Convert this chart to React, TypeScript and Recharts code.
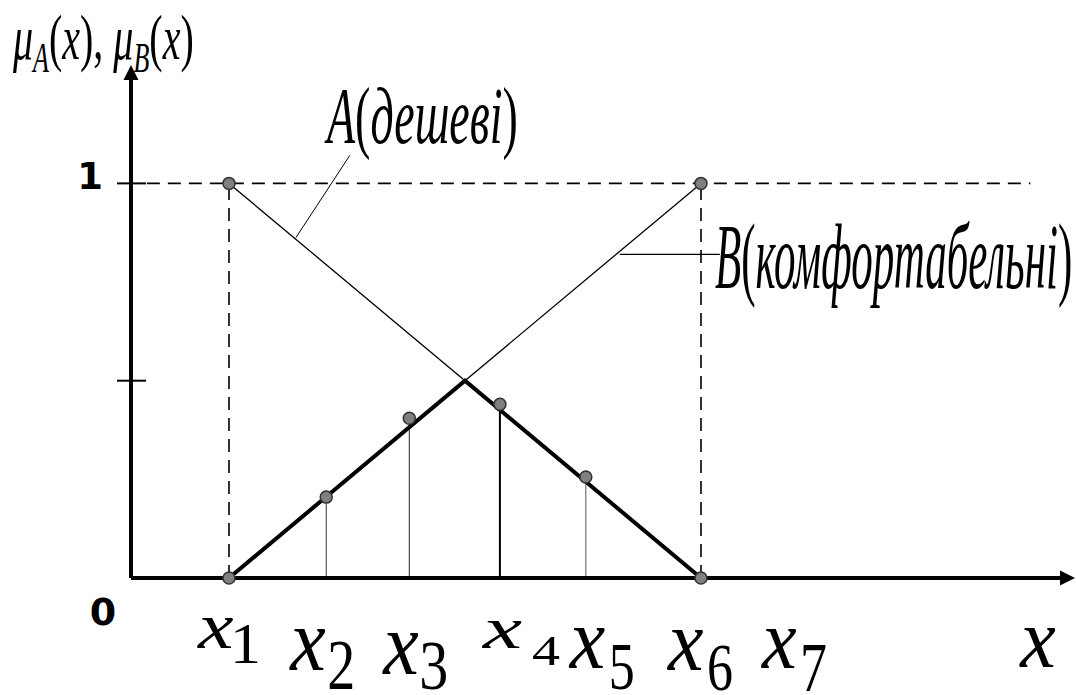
import React from 'react';
import { ComposedChart, Line, XAxis, YAxis, ReferenceLine, ReferenceDot } from 'recharts';

// ---- data ----
const X_MIN = -0.038;
const X_MAX = 9.962;
const Y_MAX = 1.3;

const tickValues = [1, 2.03, 2.91, 3.87, 4.78, 6, 7.05];
const tickSubscripts = ['1', '2', '3', '4', '5', '6', '7'];
const yTickValues = [0, 0.5, 1];

const lineA = [{ x: 1, y: 1 }, { x: 6, y: 0 }];
const lineB = [{ x: 1, y: 0 }, { x: 6, y: 1 }];
const membership = [{ x: 1, y: 0 }, { x: 3.5, y: 0.5 }, { x: 6, y: 0 }];

const sampleX = [2.03, 2.91, 3.87, 4.78];
const sampleY = [0.205, 0.405, 0.44, 0.256];
const cornerX = [1, 6, 1, 6];
const cornerY = [1, 1, 0, 0];

const guideH = { y: 1, from: 0.13, to: 9.49 };
const guideVX = [1, 6];

const leaderA = [{ x: 1.71, y: 0.863 }, { x: 2.28, y: 1.071 }];
const leaderB = [{ x: 5.14, y: 0.82 }, { x: 6.2, y: 0.82 }];

const labelA = { x: 2.038, y: 1.102, name: 'A', text: 'дешеві' };
const labelB = { x: 6.148, y: 0.735, name: 'B', text: 'комфортабельні' };
const yTitlePos = { x: -1.288, y: 1.315 };
const xTitlePos = { x: 9.57, y: 0 };

// ---- styles ----
const SERIF = 'Liberation Serif';
const dropWidths = [1, 1, 2, 1];
const dropColors = ['#333', '#222', '#000', '#555'];

const xLabelLayout = [
  { dx: -31, base: 70, fs: 80, sy: 0.82, ddx: 1, dbase: 85, dfs: 62, dsy: 0.92 },
  { dx: -36, base: 92, fs: 80, sy: 1.1, ddx: 1, dbase: 111, dfs: 56, dsy: 1.28 },
  { dx: -26, base: 96, fs: 80, sy: 1.12, ddx: 10, dbase: 111, dfs: 58, dsy: 1.2 },
  { dx: -17, base: 70, fs: 88, sy: 0.68, ddx: 32, dbase: 87, dfs: 56, dsy: 0.75 },
  { dx: -16, base: 90, fs: 80, sy: 1.08, ddx: 23, dbase: 111, dfs: 52, dsy: 1.32 },
  { dx: -33, base: 92, fs: 80, sy: 1.08, ddx: 6, dbase: 112, dfs: 52, dsy: 1.3 },
  { dx: -38, base: 90, fs: 78, sy: 1.08, ddx: 0, dbase: 113, dfs: 54, dsy: 1.3 },
];

const XTick = (props: any) => {
  const { x, y, payload } = props;
  const i = tickValues.indexOf(payload.value);
  if (i < 0) return null;
  const s = xLabelLayout[i];
  return (
    <g>
      <text transform={`translate(${x + s.dx},${y + s.base}) scale(1,${s.sy})`} fontFamily={SERIF} fontStyle="italic" fontSize={s.fs} fill="#000">x</text>
      <text transform={`translate(${x + s.ddx},${y + s.dbase}) scale(1,${s.dsy})`} fontFamily={SERIF} fontSize={s.dfs} fill="#000">{tickSubscripts[i]}</text>
    </g>
  );
};

const YTick = (props: any) => {
  const { x, y, payload } = props;
  const v = payload.value;
  return (
    <g>
      {v !== 0 && <line x1={x - 14} x2={x + 15} y1={y} y2={y} stroke="#000" strokeWidth={2} />}
      {v === 1 && (
        <text x={x - 41} y={y + 6} textAnchor="middle" fontFamily="DejaVu Sans" fontWeight="bold" fontSize={37} fill="#000">1</text>
      )}
      {v === 0 && (
        <text x={x - 28} y={y + 47} textAnchor="middle" fontFamily="DejaVu Sans" fontWeight="bold" fontSize={38} fill="#000">0</text>
      )}
    </g>
  );
};

const Arrow = (props: any) => {
  const { x1, y1, x2, y2 } = props;
  const dx = x2 - x1;
  const dy = y2 - y1;
  const len = Math.sqrt(dx * dx + dy * dy) || 1;
  const ux = dx / len;
  const uy = dy / len;
  const head = 15;
  const half = 7.5;
  const bx = x2 - ux * head;
  const by = y2 - uy * head;
  return (
    <g>
      <line x1={x1} y1={y1} x2={bx} y2={by} stroke="#000" strokeWidth={4} />
      <polygon
        points={`${x2},${y2} ${bx - uy * half},${by + ux * half} ${bx + uy * half},${by - ux * half}`}
        fill="#000"
      />
    </g>
  );
};

const annotation = (name: string, text: string, fs: number, sy: number) => (p: any) => (
  <text transform={`translate(${p.cx},${p.cy}) scale(1,${sy})`} fontFamily={SERIF} fontSize={fs} fill="#000">
    <tspan fontStyle="italic">{name}</tspan>
    <tspan>(</tspan>
    <tspan fontStyle="italic">{text}</tspan>
    <tspan>)</tspan>
  </text>
);

const yTitleShape = (p: any) => (
  <text transform={`translate(${p.cx},${p.cy}) scale(1,1.6)`} fontFamily={SERIF} fontSize={40} fill="#000">
    <tspan fontStyle="italic">μ</tspan>
    <tspan fontStyle="italic" fontSize={26} dy={8}>A</tspan>
    <tspan dy={-8}>(</tspan>
    <tspan fontStyle="italic">x</tspan>
    <tspan>), </tspan>
    <tspan fontStyle="italic">μ</tspan>
    <tspan fontStyle="italic" fontSize={26} dy={8}>B</tspan>
    <tspan dy={-8}>(</tspan>
    <tspan fontStyle="italic">x</tspan>
    <tspan>)</tspan>
  </text>
);

const xTitleShape = (p: any) => (
  <text transform={`translate(${p.cx},${p.cy + 89}) scale(1,1.07)`} textAnchor="middle" fontFamily={SERIF} fontStyle="italic" fontSize={80} fill="#000">x</text>
);

const markerStyle = { r: 6, fill: '#808080', stroke: '#333', strokeWidth: 1.5 };

export default function App() {
  return (
    <div style={{ position: 'absolute', left: 0, top: 0, width: 1076, height: 695, background: '#fff' }}>
      <ComposedChart width={1076} height={695} margin={{ top: 65, right: 1, bottom: 17, left: 31 }}>
        <XAxis type="number" dataKey="x" domain={[X_MIN, X_MAX]} ticks={tickValues} interval={0} height={100}
          axisLine={false} tickLine={false} tickSize={0} tickMargin={0} tick={<XTick />} allowDataOverflow />
        <YAxis type="number" dataKey="y" domain={[0, Y_MAX]} ticks={yTickValues} width={100}
          axisLine={false} tickLine={false} tickSize={0} tickMargin={0} tick={<YTick />} allowDataOverflow />

        <ReferenceLine segment={[{ x: guideH.from, y: guideH.y }, { x: guideH.to, y: guideH.y }]}
          stroke="#000" strokeWidth={1.6} strokeDasharray="13 8" ifOverflow="visible" />
        {guideVX.map((gx) => (
          <ReferenceLine key={`gv${gx}`} segment={[{ x: gx, y: 0 }, { x: gx, y: guideH.y }]}
            stroke="#000" strokeWidth={1.6} strokeDasharray="13 8" ifOverflow="visible" />
        ))}

        <Line data={lineA} dataKey="y" type="linear" stroke="#000" strokeWidth={1.3} dot={false} isAnimationActive={false} />
        <Line data={lineB} dataKey="y" type="linear" stroke="#000" strokeWidth={1.3} dot={false} isAnimationActive={false} />

        <ReferenceLine segment={leaderA} stroke="#000" strokeWidth={1} ifOverflow="visible" />
        <ReferenceLine segment={leaderB} stroke="#000" strokeWidth={1.3} ifOverflow="visible" />

        {sampleX.map((sx, i) => (
          <ReferenceLine key={`d${i}`} segment={[{ x: sx, y: 0 }, { x: sx, y: sampleY[i] }]}
            stroke={dropColors[i]} strokeWidth={dropWidths[i]} ifOverflow="visible" />
        ))}

        <Line data={membership} dataKey="y" type="linear" stroke="#000" strokeWidth={4} dot={false} isAnimationActive={false} />

        <ReferenceLine segment={[{ x: X_MIN, y: 0 }, { x: X_MAX, y: 0 }]} shape={<Arrow />} ifOverflow="visible" />
        <ReferenceLine segment={[{ x: X_MIN, y: 0 }, { x: X_MIN, y: Y_MAX }]} shape={<Arrow />} ifOverflow="visible" />

        {cornerX.map((cx, i) => (
          <ReferenceDot key={`c${i}`} x={cx} y={cornerY[i]} ifOverflow="visible" {...markerStyle} />
        ))}
        {sampleX.map((sx, i) => (
          <ReferenceDot key={`s${i}`} x={sx} y={sampleY[i]} ifOverflow="visible" {...markerStyle} />
        ))}

        <ReferenceDot x={labelA.x} y={labelA.y} r={0} ifOverflow="visible" shape={annotation(labelA.name, labelA.text, 46, 1.75)} />
        <ReferenceDot x={labelB.x} y={labelB.y} r={0} ifOverflow="visible" shape={annotation(labelB.name, labelB.text, 43, 2.15)} />
        <ReferenceDot x={yTitlePos.x} y={yTitlePos.y} r={0} ifOverflow="visible" shape={yTitleShape} />
        <ReferenceDot x={xTitlePos.x} y={xTitlePos.y} r={0} ifOverflow="visible" shape={xTitleShape} />
      </ComposedChart>
    </div>
  );
}
